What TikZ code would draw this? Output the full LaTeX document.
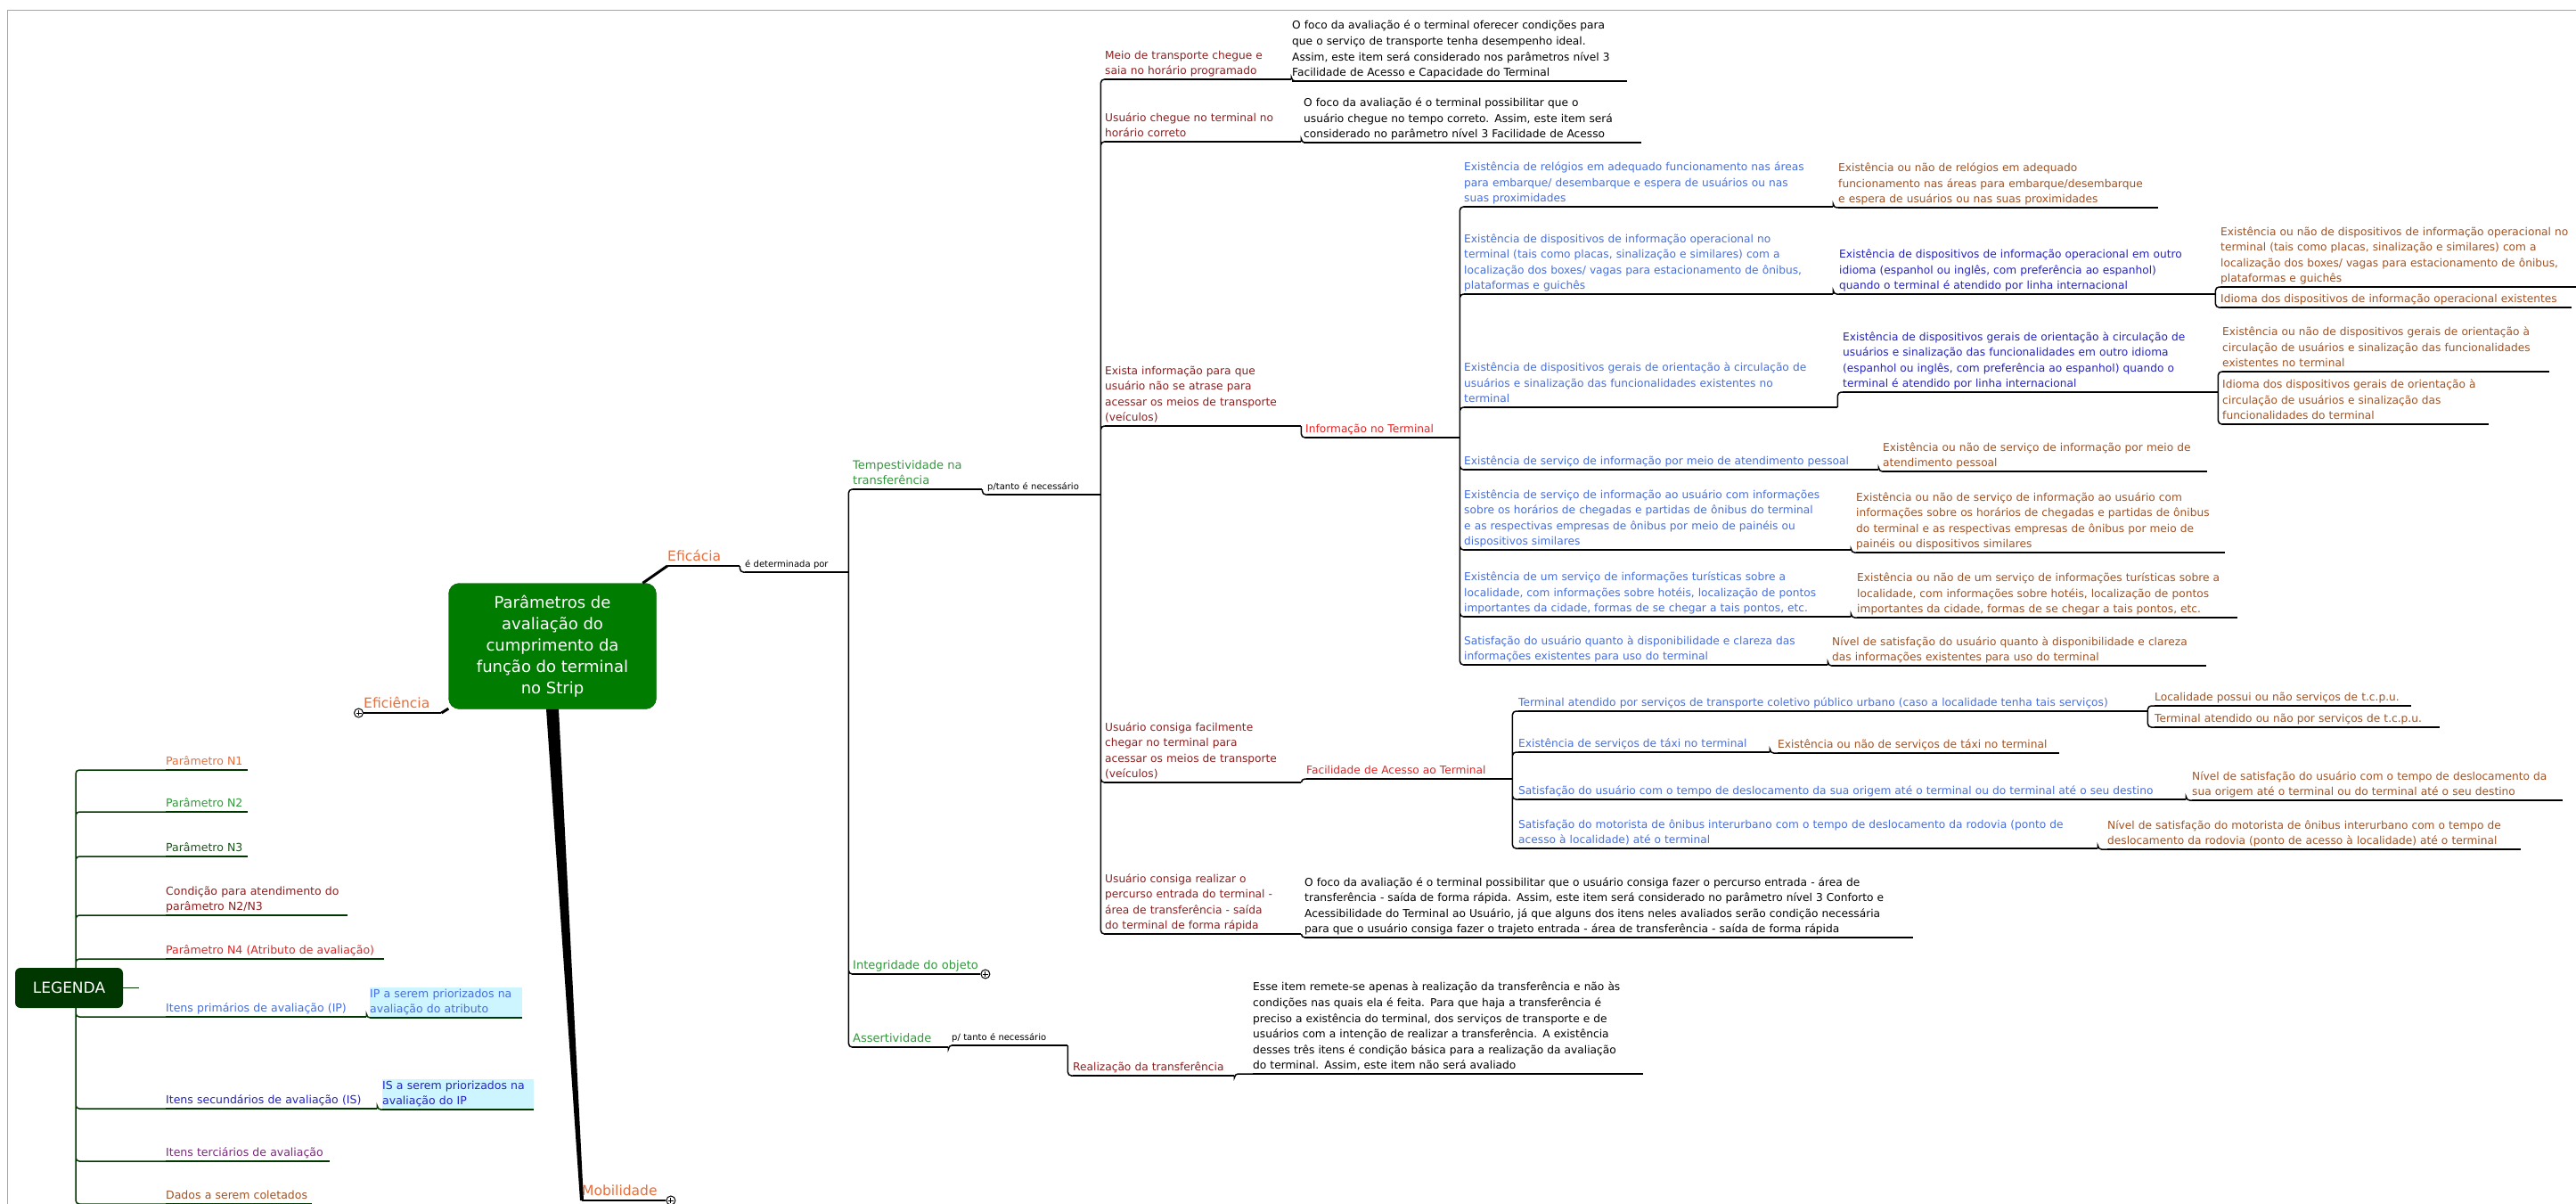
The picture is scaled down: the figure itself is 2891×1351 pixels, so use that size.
\documentclass[tikz,border=0pt]{standalone}
\usepackage{fontspec}
\setmainfont{DejaVu Sans}
\definecolor{nA}{RGB}{230,110,60}
\definecolor{nB}{RGB}{50,150,60}
\definecolor{nC}{RGB}{30,80,30}
\definecolor{cond}{RGB}{140,30,30}
\definecolor{attr}{RGB}{225,35,35}
\definecolor{ipc}{RGB}{70,110,220}
\definecolor{isc}{RGB}{35,35,190}
\definecolor{itc}{RGB}{120,40,120}
\definecolor{dado}{RGB}{160,82,35}
\definecolor{ctrg}{RGB}{0,125,0}
\definecolor{legg}{RGB}{0,55,0}
\definecolor{hilite}{RGB}{205,245,255}

\begin{document}
\begin{tikzpicture}[x=1pt,y=-1pt,
  topic/.style={anchor=south west,inner xsep=0pt,inner ysep=1.5pt,align=left,
    font=\fontsize{12.2}{17.6}\selectfont,execute at end node={\vrule width0pt height0pt depth3.5pt}},
  bigtopic/.style={topic,font=\fontsize{15.5}{19}\selectfont,text=nA},
  subtopic/.style={topic,font=\fontsize{13}{17.4}\selectfont,text=nB},
  linklabel/.style={topic,font=\fontsize{10}{12}\selectfont},
  legitem/.style={topic,font=\fontsize{12.5}{17.7}\selectfont},
  conn/.style={line width=1.5pt,rounded corners=4pt},
  collapsed/.style={circle,draw,line width=1pt,fill=white,minimum size=10pt,inner sep=0pt,
    path picture={\draw[line width=0.9pt] ([xshift=-3pt]path picture bounding box.center) -- ([xshift=3pt]path picture bounding box.center)
      ([yshift=-3pt]path picture bounding box.center) -- ([yshift=3pt]path picture bounding box.center);}}]
  \useasboundingbox (0,0) rectangle (2891,1351);
  \draw[gray!70,line width=1pt] (8,1351) |- (2891,12);

  \node[rounded corners=12pt,fill=ctrg,draw=ctrg!70!black,minimum width=233,minimum height=141,
    text=white,align=center,font=\fontsize{18}{24}\selectfont] (ctr) at (620,725)
    {Parâmetros de\\avaliação do\\cumprimento da\\função do terminal\\no Strip};
  \node[bigtopic,text width=81pt] (efa) at (749,635) {Eficácia};
  \node[bigtopic,text width=87pt] (efi) at (408,800) {Eficiência};
  \node[bigtopic,text width=94pt] (mob) at (653,1347) {Mobilidade};
  \node[linklabel,text width=116pt] (lbd) at (836,642) {é determinada por};
  \node[subtopic,text width=145pt] (tmp) at (957,549) {Tempestividade na\\transferência};
  \node[linklabel,text width=127pt] (ptn) at (1108,555) {p/tanto é necessário};
  \node[subtopic,text width=143pt] (itg) at (957,1093) {Integridade do objeto};
  \node[subtopic,text width=107pt] (ast) at (957,1175) {Assertividade};
  \node[linklabel,text width=130pt] (pte) at (1068,1173) {p/ tanto é necessário};
  \node[topic,text=cond,text width=181pt] (rlz) at (1204,1207) {Realização da transferência};
  \node[topic,text width=438pt] (rlzd) at (1406,1205) {Esse item remete-se apenas à realização da transferência e não às\\condições nas quais ela é feita. Para que haja a transferência é\\preciso a existência do terminal, dos serviços de transporte e de\\usuários com a intenção de realizar a transferência. A existência\\desses três itens é condição básica para a realização da avaliação\\do terminal. Assim, este item não será avaliado};

  \node[topic,text=cond,text width=209pt] (mei) at (1240,89) {Meio de transporte chegue e\\saia no horário programado};
  \node[topic,text width=376pt] (meid) at (1450,91) {O foco da avaliação é o terminal oferecer condições para\\que o serviço de transporte tenha desempenho ideal.\\Assim, este item será considerado nos parâmetros nível 3\\Facilidade de Acesso e Capacidade do Terminal};
  \node[topic,text=cond,text width=220pt] (usc) at (1240,159) {Usuário chegue no terminal no\\horário correto};
  \node[topic,text width=379pt] (uscd) at (1463,160) {O foco da avaliação é o terminal possibilitar que o\\usuário chegue no tempo correto. Assim, este item será\\considerado no parâmetro nível 3 Facilidade de Acesso};
  \node[topic,text=cond,text width=220pt] (exi) at (1240,478) {Exista informação para que\\usuário não se atrase para\\acessar os meios de transporte\\(veículos)};
  \node[topic,text=attr,text width=173pt] (inf) at (1465,491) {Informação no Terminal};
  \node[topic,text=cond,text width=220pt] (ucf) at (1240,878) {Usuário consiga facilmente\\chegar no terminal para\\acessar os meios de transporte\\(veículos)};
  \node[topic,text=attr,text width=231pt] (fac) at (1466,874) {Facilidade de Acesso ao Terminal};
  \node[topic,text=cond,text width=220pt] (ucr) at (1240,1048) {Usuário consiga realizar o\\percurso entrada do terminal -\\área de transferência - saída\\do terminal de forma rápida};
  \node[topic,text width=683pt] (ucrd) at (1464,1052) {O foco da avaliação é o terminal possibilitar que o usuário consiga fazer o percurso entrada - área de\\transferência - saída de forma rápida. Assim, este item será considerado no parâmetro nível 3 Conforto e\\Acessibilidade do Terminal ao Usuário, já que alguns dos itens neles avaliados serão condição necessária\\para que o usuário consiga fazer o trajeto entrada - área de transferência - saída de forma rápida};

  \node[topic,text=ipc,text width=414pt] (i1) at (1643,232) {Existência de relógios em adequado funcionamento nas áreas\\para embarque/ desembarque e espera de usuários ou nas\\suas proximidades};
  \node[topic,text=ipc,text width=414pt] (i2) at (1643,330) {Existência de dispositivos de informação operacional no\\terminal (tais como placas, sinalização e similares) com a\\localização dos boxes/ vagas para estacionamento de ônibus,\\plataformas e guichês};
  \node[topic,text=ipc,text width=419pt] (i3) at (1643,457) {Existência de dispositivos gerais de orientação à circulação de\\usuários e sinalização das funcionalidades existentes no\\terminal};
  \node[topic,text=ipc,text width=465pt] (i4) at (1643,527) {Existência de serviço de informação por meio de atendimento pessoal};
  \node[topic,text=ipc,text width=434pt] (i5) at (1643,617) {Existência de serviço de informação ao usuário com informações\\sobre os horários de chegadas e partidas de ônibus do terminal\\e as respectivas empresas de ônibus por meio de painéis ou\\dispositivos similares};
  \node[topic,text=ipc,text width=434pt] (i6) at (1643,692) {Existência de um serviço de informações turísticas sobre a\\localidade, com informações sobre hotéis, localização de pontos\\importantes da cidade, formas de se chegar a tais pontos, etc.};
  \node[topic,text=ipc,text width=408pt] (i7) at (1643,746) {Satisfação do usuário quanto à disponibilidade e clareza das\\informações existentes para uso do terminal};

  \node[topic,text=dado,text width=359pt] (i1a) at (2063,233) {Existência ou não de relógios em adequado\\funcionamento nas áreas para embarque/desembarque\\e espera de usuários ou nas suas proximidades};
  \node[topic,text=isc,text width=422pt] (i2a) at (2064,330) {Existência de dispositivos de informação operacional em outro\\idioma (espanhol ou inglês, com preferência ao espanhol)\\quando o terminal é atendido por linha internacional};
  \node[topic,text=dado,text width=440pt] (i2a1) at (2492,322) {Existência ou não de dispositivos de informação operacional no\\terminal (tais como placas, sinalização e similares) com a\\localização dos boxes/ vagas para estacionamento de ônibus,\\plataformas e guichês};
  \node[topic,text=dado,text width=394pt] (i2a2) at (2492,345) {Idioma dos dispositivos de informação operacional existentes};
  \node[topic,text=isc,text width=421pt] (i3a) at (2068,440) {Existência de dispositivos gerais de orientação à circulação de\\usuários e sinalização das funcionalidades em outro idioma\\(espanhol ou inglês, com preferência ao espanhol) quando o\\terminal é atendido por linha internacional};
  \node[topic,text=dado,text width=367pt] (i3a1) at (2494,417) {Existência ou não de dispositivos gerais de orientação à\\circulação de usuários e sinalização das funcionalidades\\existentes no terminal};
  \node[topic,text=dado,text width=299pt] (i3a2) at (2494,476) {Idioma dos dispositivos gerais de orientação à\\circulação de usuários e sinalização das\\funcionalidades do terminal};
  \node[topic,text=dado,text width=364pt] (i4a) at (2113,529) {Existência ou não de serviço de informação por meio de\\atendimento pessoal};
  \node[topic,text=dado,text width=414pt] (i5a) at (2083,620) {Existência ou não de serviço de informação ao usuário com\\informações sobre os horários de chegadas e partidas de ônibus\\do terminal e as respectivas empresas de ônibus por meio de\\painéis ou dispositivos similares};
  \node[topic,text=dado,text width=427pt] (i6a) at (2084,693) {Existência ou não de um serviço de informações turísticas sobre a\\localidade, com informações sobre hotéis, localização de pontos\\importantes da cidade, formas de se chegar a tais pontos, etc.};
  \node[topic,text=dado,text width=420pt] (i7a) at (2056,747) {Nível de satisfação do usuário quanto à disponibilidade e clareza\\das informações existentes para uso do terminal};

  \node[topic,text=ipc,text width=706pt] (f1) at (1704,798) {Terminal atendido por serviços de transporte coletivo público urbano (caso a localidade tenha tais serviços)};
  \node[topic,text=ipc,text width=282pt] (f2) at (1704,844) {Existência de serviços de táxi no terminal};
  \node[topic,text=ipc,text width=749pt] (f3) at (1704,897) {Satisfação do usuário com o tempo de deslocamento da sua origem até o terminal ou do terminal até o seu destino};
  \node[topic,text=ipc,text width=650pt] (f4) at (1704,952) {Satisfação do motorista de ônibus interurbano com o tempo de deslocamento da rodovia (ponto de\\acesso à localidade) até o terminal};
  \node[topic,text=dado,text width=288pt] (f1a) at (2418,792) {Localidade possui ou não serviços de t.c.p.u.};
  \node[topic,text=dado,text width=320pt] (f1b) at (2418,816) {Terminal atendido ou não por serviços de t.c.p.u.};
  \node[topic,text=dado,text width=316pt] (f2a) at (1995,845) {Existência ou não de serviços de táxi no terminal};
  \node[topic,text=dado,text width=416pt] (f3a) at (2460,898) {Nível de satisfação do usuário com o tempo de deslocamento da\\sua origem até o terminal ou do terminal até o seu destino};
  \node[topic,text=dado,text width=464pt] (f4a) at (2365,953) {Nível de satisfação do motorista de ônibus interurbano com o tempo de\\deslocamento da rodovia (ponto de acesso à localidade) até o terminal};

  \node[rounded corners=6pt,fill=legg,text=white,minimum width=121,minimum height=45,
    font=\fontsize{17}{20}\selectfont] (leg) at (77.5,1108.5) {LEGENDA};
  \coordinate (legstub) at (156,1108.5);
  \node[legitem,text=nA,text width=92pt] (ln1) at (186,864) {Parâmetro N1};
  \node[legitem,text=nB,text width=92pt] (ln2) at (186,911) {Parâmetro N2};
  \node[legitem,text=nC,text width=92pt] (ln3) at (186,961) {Parâmetro N3};
  \node[legitem,text=cond,text width=204pt] (lcd) at (186,1027) {Condição para atendimento do\\parâmetro N2/N3};
  \node[legitem,text=attr,text width=245pt] (ln4) at (186,1076) {Parâmetro N4 (Atributo de avaliação)};
  \node[legitem,text=ipc,text width=225pt] (lip) at (186,1141) {Itens primários de avaliação (IP)};
  \node[legitem,text=ipc,fill=hilite,text width=171pt] (lipc) at (415,1142) {IP a serem priorizados na\\avaliação do atributo};
  \node[legitem,text=isc,text width=237pt] (lis) at (186,1244) {Itens secundários de avaliação (IS)};
  \node[legitem,text=isc,fill=hilite,text width=170pt] (lisc) at (429,1245) {IS a serem priorizados na\\avaliação do IP};
  \node[legitem,text=itc,text width=184pt] (lit) at (186,1303) {Itens terciários de avaliação};
  \node[legitem,text=dado,text width=164pt] (lda) at (186,1351) {Dados a serem coletados};

  \node[collapsed,anchor=east] at (efi.south west) {};
  \node[collapsed,anchor=west] at (itg.south east) {};
  \node[collapsed,anchor=west] at (mob.south east) {};

  \foreach \n in {efa,efi,mob,lbd,tmp,ptn,itg,ast,pte,rlz,rlzd,mei,meid,usc,uscd,exi,inf,ucf,fac,ucr,ucrd,
      i1,i2,i3,i4,i5,i6,i7,i1a,i2a,i2a1,i2a2,i3a,i3a1,i3a2,i4a,i5a,i6a,i7a,f1,f2,f3,f4,f1a,f1b,f2a,f3a,f4a}
    \draw[line width=1.5pt] (\n.south west) -- (\n.south east);
  \foreach \n in {ln1,ln2,ln3,lcd,ln4,lip,lipc,lis,lisc,lit,lda}
    \draw[legg,line width=1.5pt] (\n.south west) -- (\n.south east);

  \draw[line width=3pt] (ctr) -- (efa.south west);
  \draw[line width=3pt] (ctr) -- (efi.south east);
  \fill ([xshift=-7pt]ctr.south) -- ([xshift=7pt]ctr.south) -- ([xshift=2pt]mob.south west) -- ([xshift=-2pt]mob.south west) -- cycle;

  \draw[conn] (efa.south east) |- (lbd.south west);
  \draw[conn] (lbd.south east) |- (tmp.south west) (lbd.south east) |- (itg.south west) (lbd.south east) |- (ast.south west);
  \draw[conn] (tmp.south east) |- (ptn.south west) (ast.south east) |- (pte.south west)
    (pte.south east) |- (rlz.south west) (rlz.south east) |- (rlzd.south west);
  \draw[conn] (ptn.south east) |- (mei.south west) (ptn.south east) |- (usc.south west) (ptn.south east) |- (exi.south west)
    (ptn.south east) |- (ucf.south west) (ptn.south east) |- (ucr.south west);
  \draw[conn] (mei.south east) |- (meid.south west) (usc.south east) |- (uscd.south west) (ucr.south east) |- (ucrd.south west)
    (exi.south east) |- (inf.south west) (ucf.south east) |- (fac.south west);
  \draw[conn] (inf.south east) |- (i1.south west) (inf.south east) |- (i2.south west) (inf.south east) |- (i3.south west)
    (inf.south east) |- (i4.south west) (inf.south east) |- (i5.south west) (inf.south east) |- (i6.south west)
    (inf.south east) |- (i7.south west);
  \draw[conn] (i1.south east) |- (i1a.south west) (i2.south east) |- (i2a.south west) (i3.south east) |- (i3a.south west)
    (i4.south east) |- (i4a.south west) (i5.south east) |- (i5a.south west) (i6.south east) |- (i6a.south west)
    (i7.south east) |- (i7a.south west);
  \draw[conn] (i2a.south east) |- (i2a1.south west) (i2a.south east) |- (i2a2.south west)
    (i3a.south east) |- (i3a1.south west) (i3a.south east) |- (i3a2.south west);
  \draw[conn] (fac.south east) |- (f1.south west) (fac.south east) |- (f2.south west) (fac.south east) |- (f3.south west)
    (fac.south east) |- (f4.south west);
  \draw[conn] (f1.south east) |- (f1a.south west) (f1.south east) |- (f1b.south west) (f2.south east) |- (f2a.south west)
    (f3.south east) |- (f3a.south west) (f4.south east) |- (f4a.south west);

  \draw[conn,legg] ([xshift=7.5pt]leg.north) |- (ln1.south west) ([xshift=7.5pt]leg.north) |- (ln2.south west)
    ([xshift=7.5pt]leg.north) |- (ln3.south west) ([xshift=7.5pt]leg.north) |- (lcd.south west)
    ([xshift=7.5pt]leg.north) |- (ln4.south west);
  \draw[conn,legg] ([xshift=7.5pt]leg.south) |- (lip.south west) ([xshift=7.5pt]leg.south) |- (lis.south west)
    ([xshift=7.5pt]leg.south) |- (lit.south west) ([xshift=7.5pt]leg.south) |- (lda.south west);
  \draw[conn,legg] (lip.south east) |- (lipc.south west) (lis.south east) |- (lisc.south west);
  \draw[legg,line width=1.5pt] (leg.east) -- (legstub);
\end{tikzpicture}
\end{document}
